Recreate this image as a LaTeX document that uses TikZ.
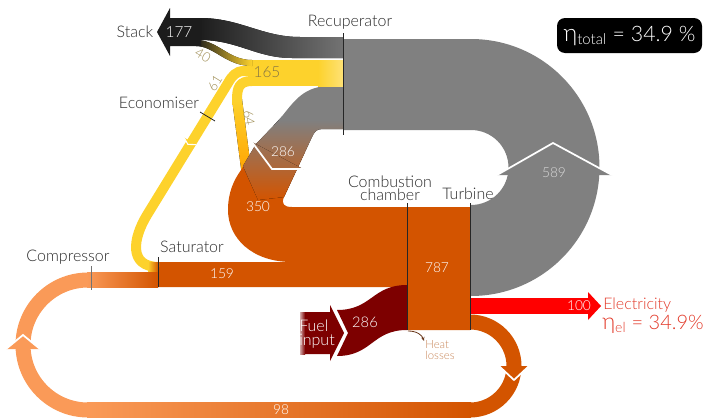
\documentclass[tikz,border=0pt]{standalone}
\usepackage{fontspec}
\setmainfont{Lato Light}
\usetikzlibrary{arrows.meta}
\definecolor{cgray}{HTML}{808080}
\definecolor{cyel}{HTML}{FDD22C}
\definecolor{corg}{HTML}{D35400}
\definecolor{clor}{HTML}{FA9A58}
\definecolor{cred}{HTML}{FF0000}
\definecolor{cmar}{HTML}{7D0000}
\definecolor{camb}{HTML}{FFA200}
\definecolor{colv}{HTML}{9C8A50}
\definecolor{ctxt}{HTML}{2A2A2A}
\definecolor{cblk}{HTML}{1C1C1C}
\definecolor{cel}{HTML}{E23A2A}
\definecolor{cheat}{HTML}{C8875A}
\definecolor{cbrn}{HTML}{6B3A1E}
\tikzset{
  lbl/.style={font=\fontsize{12}{9.8}\selectfont, text=ctxt, inner sep=0pt},
  num/.style={font=\fontsize{10.3}{11}\selectfont, text=white, inner sep=0pt},
  olv/.style={font=\fontsize{10}{11}\selectfont, text=colv, inner sep=0pt},
  marker/.style={line width=0.6pt, draw=black!85},
  chev/.style={draw=white, line width=1.3pt, line join=miter},
}
\begin{document}
\begin{tikzpicture}[x=0.75pt,y=-0.75pt]
\useasboundingbox (0,0) rectangle (704,418);
% ---- 589 gray U band
\fill[cgray] (343,39) -- (471,39) arc[start angle=-90,end angle=90,radius=128.5] -- (470,296) -- (470,205) -- (471,205) arc[start angle=90,end angle=-90,radius=37.5] -- (343,130) -- cycle;
\fill[cgray] (497,175) -- (553,143) -- (612,175) -- cycle;
\draw[chev] (497,175) -- (553,143) -- (612,175);
% ---- 64 band
\draw[cyel, line width=7.5pt] (252,81) .. controls (239,81) and (237,88) .. (237,100);
\fill[top color=cyel, bottom color=camb] (232,99) -- (242,99) -- (252,176) -- (242,176) -- cycle;
% ---- orange main region (350 bulb, 159 band, 787 block)
\fill[corg] (158,262) -- (292,262) .. controls (252,262) and (228,238) .. (228,210) .. controls (228,192) and (234,180) .. (241,170) -- (256,145) -- (305,152) -- (284,197) .. controls (281,204) and (284,207) .. (292,207) -- (470,207) -- (470,330) -- (407,330) -- (407,287) -- (158,287) -- cycle;
% ---- 286 gray band to the bulb
\fill[cgray] (343,86) -- (330,86) .. controls (305,86) and (295,100) .. (283,115) -- (274,125) -- (343,125) -- cycle;
\fill[top color=cgray, bottom color=corg] (343,120) -- (279,120) -- (256,144) -- (243,166) -- (258,200) -- (284,197) -- (312,137) .. controls (314,133) and (316,129) .. (322,129) -- (343,129) -- cycle;
\fill[top color=cgray!70!corg, bottom color=cgray!45!corg] (252,142) -- (272,169) -- (303,169) -- cycle;
\draw[chev] (252,142) -- (272,169) -- (303,169);
% ---- yellow 165 band
\fill[cyel] (248,60) rectangle (343,86);
\fill[left color=cyel, right color=cyel!65!white] (318,60) rectangle (343,86);
% ---- 61 band
\draw[cyel, line width=7.5pt] (252,71) -- (244,71) .. controls (236,71) and (232,76) .. (228,83) -- (147,215) .. controls (133,238) and (128,267) .. (159,267);
\fill[left color=cyel, right color=corg] (148,262.5) rectangle (158.5,271.5);
\fill[cyel] (196,144.6) -- (187.9,144.4) -- (184,137.4) -- cycle;
\draw[draw=white, line width=0.8pt] (196,144.6) -- (187.9,144.4) -- (184,137.4);
% ---- 40 flow and stack
\fill[left color=cblk, right color=cyel] (252,60) .. controls (228,60) and (218,40) .. (196,40) -- (196,46) .. controls (214,46) and (226,66) .. (252,66) -- cycle;
\fill[left color=cblk, right color=black!55] (343,37) -- (300,37) .. controls (262,37) and (240,18) .. (200,18) -- (199,18) -- (199,40) -- (200,40) .. controls (238,40) and (256,58) .. (292,58) -- (343,58) -- cycle;
\fill[cblk] (201,18) -- (170,18) -- (170,8) -- (157,32) -- (170,56) -- (170,46) -- (201,46) -- cycle;
% ---- 98 loop
\draw[corg, line width=11.25pt] (470,322) arc[start angle=-90,end angle=90,radius=44];
\fill[left color=clor, right color=corg] (87,402.5) rectangle (471,417.5);
\draw[clor, line width=11.25pt] (88,410) arc[start angle=90,end angle=270,radius=65];
\fill[left color=clor, right color=corg] (87,272.5) rectangle (158,287.5);
\fill[clor] (6,349) -- (23,335) -- (40,349) -- cycle;
\draw[chev] (6,349) -- (23,335) -- (40,349);
\fill[corg] (499,366) -- (514,380) -- (529,366) -- cycle;
\draw[chev] (499,366) -- (514,380) -- (529,366);
% ---- electricity
\fill[cred] (470,298) rectangle (590,314);
\fill[cred] (588,292) -- (601,306) -- (588,320) -- cycle;
% ---- fuel
\fill[cmar] (337,310) .. controls (372,310) and (372,285) .. (407,285) -- (407,330) .. controls (372,330) and (372,356) .. (337,356) -- (348,333) -- cycle;
\fill[cmar] (300,312) -- (330,312) -- (330,305) -- (344,333) -- (330,361) -- (330,354) -- (300,354) -- cycle;
\fill[left color=cmar!35!white, right color=cmar] (300,312) rectangle (305,354);
% ---- heat losses
\draw[cbrn, line width=0.6pt, -{Stealth[length=3pt,width=2.5pt]}] (408,331) .. controls (417,331) and (422,335) .. (424,341);
% ---- component markers
\draw[marker] (343,33) -- (343,135);
\draw[marker] (407,203) -- (407,330);
\draw[marker] (470,203) -- (470,330);
\draw[marker] (158,257) -- (158,287);
\draw[marker, draw=black!55] (91,266) -- (91,290);
\draw[marker] (200,112) -- (215,121);
% ---- labels
\node[lbl] (stack) at (135,32) {Stack};
\node[num, font=\fontsize{11.5}{12}\selectfont] (n177) at (179,32) {177};
\node[olv, rotate=-30] (n40) at (203,55) {40};
\node[olv, font=\fontsize{11.5}{12}\selectfont, text=colv!85!black] (n165) at (267,72) {165};
\node[olv, rotate=58] (n61) at (215,83) {61};
\node[olv, rotate=-80] (n64) at (249,118) {64};
\node[lbl] (recup) at (350,22) {Recuperator};
\node[lbl] (econ) at (159,103) {Economiser};
\node[num] (n286g) at (283,152) {286};
\node[num] (n350) at (258,207) {350};
\node[lbl, align=center] (comb) at (390,188) {Combustion\\chamber};
\node[lbl] (turb) at (468,194) {Turbine};
\node[num, text=white!85!black] (n589) at (554,173) {589};
\node[lbl] (sat) at (192,247) {Saturator};
\node[lbl] (comp) at (68,257) {Compressor};
\node[num] (n159) at (222,274) {159};
\node[num] (n787) at (437,268) {787};
\node[num] (n100) at (579,306) {100};
\node[lbl, text=cel, anchor=west] (elec) at (603,305) {Electricity};
\node[inner sep=0pt, text=cel, anchor=west, font=\fontsize{15}{16}\selectfont] (etael) at (602,324) {{\fontsize{17}{17}\selectfont η}\textsubscript{el} = 34.9\%};
\node[inner sep=0pt, text=white, align=left, font=\fontsize{12}{11}\selectfont] (fuel) at (317,334) {Fuel\\input};
\node[num, font=\fontsize{11}{11}\selectfont] (n286f) at (365,322) {286};
\node[inner sep=0pt, text=cheat, align=left, font=\fontsize{8.5}{8.5}\selectfont] (heat) at (440,350) {Heat\\losses};
\node[num] (n98) at (281,410) {98};
\node[fill=black, rounded corners=6pt, text=white, minimum width=108.75pt, minimum height=26.25pt, inner sep=0pt, font=\fontsize{16}{16}\selectfont] (etatot) at (629.5,35.5) {{\fontsize{18}{18}\selectfont η}\textsubscript{total} = 34.9 \%};
\end{tikzpicture}
\end{document}
